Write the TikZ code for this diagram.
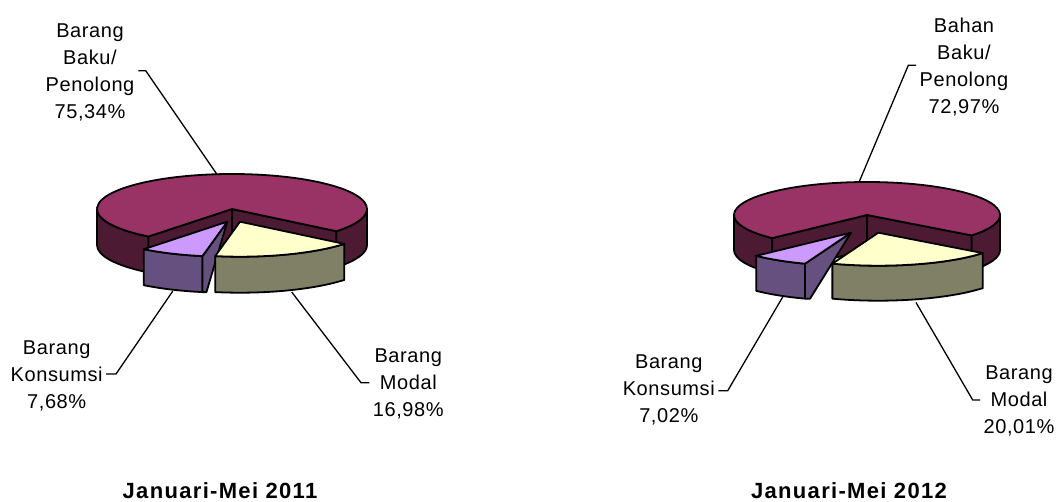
\documentclass[tikz,border=0pt]{standalone}
\usepackage{fontspec}
\setmainfont{Liberation Sans}
\newfontfamily\labfont{Liberation Sans}[LetterSpace=3]
\newfontfamily\ttlfont{Liberation Sans}[LetterSpace=6]
\definecolor{magtop}{HTML}{993366}
\definecolor{magside}{HTML}{4C1A33}
\definecolor{lavtop}{HTML}{CC99FF}
\definecolor{purside}{HTML}{665080}
\definecolor{yeltop}{HTML}{FFFFCC}
\definecolor{olvside}{HTML}{808066}
\begin{document}
\begin{tikzpicture}[x=1pt,y=1pt,
  face/.style={draw=black, line width=1.8pt, line join=round},
  lab/.style={font=\fontsize{20}{27}\selectfont\labfont, align=center, anchor=base, inner sep=0pt},
  ttl/.style={font=\fontsize{22}{25}\selectfont\ttlfont\bfseries, anchor=base, inner sep=0pt},
  leader/.style={draw=black, line width=1.3pt}]
\useasboundingbox (0,0) rectangle (1056,-502);
\fill[white] (0,0) rectangle (1056,-502);

% ---------------- left pie (2011) ----------------
\begin{scope}[shift={(232,-209)}, er/.style={x radius=135, y radius=35}]
  \def\aA{231.8}\def\aB{259.4}\def\aC{320.6}
  \path[face, fill=magside] (180:135 and 35) arc[start angle=180, end angle=\aA, er] -- ++(0,-36) arc[start angle=\aA, end angle=180, er] -- cycle;
  \path[face, fill=magside] (\aC:135 and 35) arc[start angle=\aC, end angle=360, er] -- ++(0,-36) arc[start angle=360, end angle=\aC, er] -- cycle;
  \path[face, fill=magside] (0,0) -- (\aA:135 and 35) -- ++(0,-36) -- (0,-36) -- cycle;
  \path[face, fill=magside] (0,0) -- (\aC:135 and 35) -- ++(0,-36) -- (0,-36) -- cycle;
  \path[face, fill=magtop] (0,0) -- (\aC:135 and 35) arc[start angle=\aC, end angle=591.8, er] -- cycle;
  \begin{scope}[shift={(-4.7,-12.7)}]
    \path[face, fill=purside] (\aA:135 and 35) arc[start angle=\aA, end angle=\aB, er] -- ++(0,-36) arc[start angle=\aB, end angle=\aA, er] -- cycle;
    \path[face, fill=purside] (0,0) -- (\aB:135 and 35) -- ++(0,-36) -- ++(4,0) -- cycle;
    \path[face, fill=lavtop] (0,0) -- (\aA:135 and 35) arc[start angle=\aA, end angle=\aB, er] -- cycle;
  \end{scope}
  \begin{scope}[shift={(8,-12.7)}]
    \path[face, fill=olvside] (\aB:135 and 35) arc[start angle=\aB, end angle=\aC, er] -- ++(0,-36) arc[start angle=\aC, end angle=\aB, er] -- cycle;
    \path[face, fill=yeltop] (0,0) -- (\aB:135 and 35) arc[start angle=\aB, end angle=\aC, er] -- cycle;
  \end{scope}
\end{scope}

% ---------------- right pie (2012) ----------------
\begin{scope}[shift={(867,-215)}, er/.style={x radius=133, y radius=33}]
  \def\aA{224.5}\def\aB{249.8}\def\aC{321.8}
  \path[face, fill=magside] (180:133 and 33) arc[start angle=180, end angle=\aA, er] -- ++(0,-35) arc[start angle=\aA, end angle=180, er] -- cycle;
  \path[face, fill=magside] (\aC:133 and 33) arc[start angle=\aC, end angle=360, er] -- ++(0,-35) arc[start angle=360, end angle=\aC, er] -- cycle;
  \path[face, fill=magside] (0,0) -- (\aA:133 and 33) -- ++(0,-35) -- (0,-35) -- cycle;
  \path[face, fill=magside] (0,0) -- (\aC:133 and 33) -- ++(0,-35) -- (0,-35) -- cycle;
  \path[face, fill=magtop] (0,0) -- (\aC:133 and 33) arc[start angle=\aC, end angle=584.5, er] -- cycle;
  \begin{scope}[shift={(-16,-17.7)}]
    \path[face, fill=purside] (\aA:133 and 33) arc[start angle=\aA, end angle=\aB, er] -- ++(0,-35) arc[start angle=\aB, end angle=\aA, er] -- cycle;
    \path[face, fill=purside] (0,0) -- (\aB:133 and 33) -- ++(0,-35) -- ++(5,0) -- cycle;
    \path[face, fill=lavtop] (0,0) -- (\aA:133 and 33) arc[start angle=\aA, end angle=\aB, er] -- cycle;
  \end{scope}
  \begin{scope}[shift={(11.3,-17.7)}]
    \path[face, fill=olvside] (\aB:133 and 33) arc[start angle=\aB, end angle=\aC, er] -- ++(0,-35) arc[start angle=\aC, end angle=\aB, er] -- cycle;
    \path[face, fill=yeltop] (0,0) -- (\aB:133 and 33) arc[start angle=\aB, end angle=\aC, er] -- cycle;
  \end{scope}
\end{scope}

% ---------------- labels, left (anchor = baseline of last line) ----------------
\node[lab] (bakuL) at (90,-118.3) {Barang\\Baku/\\Penolong\\75,34\%};
\node[lab] (konsL) at (56.7,-408.3) {Barang\\Konsumsi\\7,68\%};
\node[lab] (modalL) at (408.3,-416.7) {Barang\\Modal\\16,98\%};
\node[ttl] (titleL) at (220,-498.5) {Januari-Mei 2011};

\coordinate (bakuLt) at (138.3,-70.7);
\coordinate (bakuLk) at (145.7,-70.7);
\coordinate (bakuLp) at (216.7,-174);
\coordinate (konsLt) at (106,-374);
\coordinate (konsLk) at (116,-374);
\coordinate (konsLp) at (172.7,-291.2);
\coordinate (modalLt) at (369.3,-382.7);
\coordinate (modalLk) at (361,-382.7);
\coordinate (modalLp) at (291.7,-292);
\draw[leader] (bakuLt) -- (bakuLk) -- (bakuLp);
\draw[leader] (konsLt) -- (konsLk) -- (konsLp);
\draw[leader] (modalLt) -- (modalLk) -- (modalLp);

% ---------------- labels, right ----------------
\node[lab] (bakuR) at (964,-113.3) {Bahan\\Baku/\\Penolong\\72,97\%};
\node[lab] (konsR) at (668.8,-422.7) {Barang\\Konsumsi\\7,02\%};
\node[lab] (modalR) at (1019,-433.3) {Barang\\Modal\\20,01\%};
\node[ttl] (titleR) at (849,-498.5) {Januari-Mei 2012};

\coordinate (bakuRt) at (916,-65.3);
\coordinate (bakuRk) at (908.3,-65.3);
\coordinate (bakuRp) at (859.3,-181.5);
\coordinate (konsRt) at (718.3,-390.7);
\coordinate (konsRk) at (727.7,-390.7);
\coordinate (konsRp) at (782.7,-297);
\coordinate (modalRt) at (980,-400);
\coordinate (modalRk) at (972.7,-400);
\coordinate (modalRp) at (916,-302.5);
\draw[leader] (bakuRt) -- (bakuRk) -- (bakuRp);
\draw[leader] (konsRt) -- (konsRk) -- (konsRp);
\draw[leader] (modalRt) -- (modalRk) -- (modalRp);
\end{tikzpicture}
\end{document}
